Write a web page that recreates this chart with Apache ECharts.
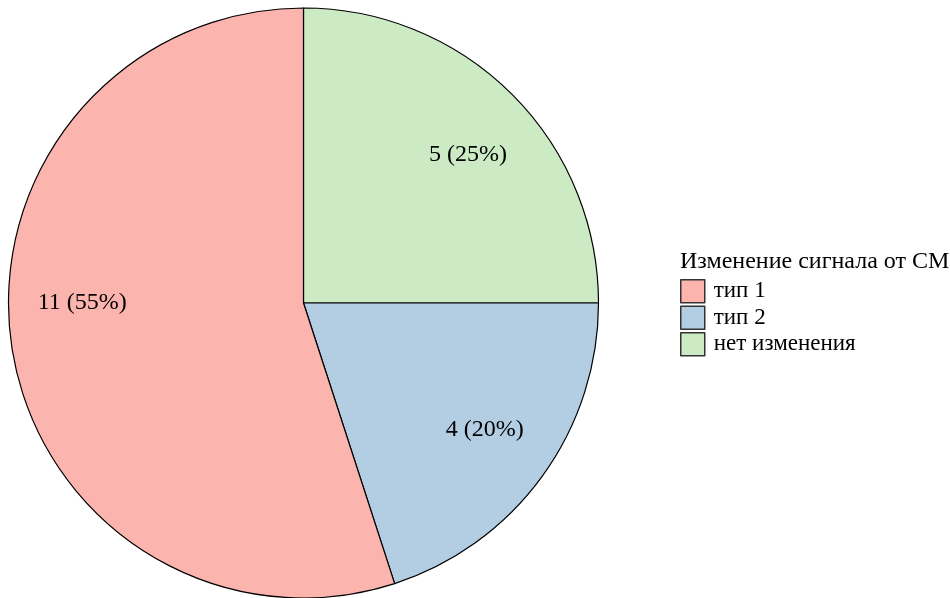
<!DOCTYPE html>
<html><head><meta charset="utf-8">
<script src="https://cdn.jsdelivr.net/npm/echarts@6/dist/echarts.min.js"></script>
<style>html,body{margin:0;padding:0;background:#fff}#c{width:950px;height:598px}</style>
</head><body><div id="c"></div>
<script>
// data (drawing order: clockwise from 12 o'clock)
const categories = ['нет изменения', 'тип 2', 'тип 1'];
const values = [5, 4, 11];
const colors = ['#CCEBC5', '#B3CDE3', '#FBB4AE'];
const legendOrder = ['тип 1', 'тип 2', 'нет изменения'];
const legendTitle = 'Изменение сигнала от СМ';
// label placement (angle from 12 o'clock, clockwise)
const labelAngles = [48, 125, 270];
const labelRadiusFrac = 0.75;

const total = values.reduce((a, b) => a + b, 0);
const cx = 303.5, cy = 303, R = 295;

const chart = echarts.init(document.getElementById('c'), null, {renderer: 'canvas'});
chart.setOption({
  animation: false,
  title: {
    text: legendTitle, left: 680, top: 250, padding: 0,
    textStyle: {fontFamily: 'Liberation Serif', fontSize: 24, fontWeight: 'normal', color: '#000'}
  },
  legend: {
    data: legendOrder, orient: 'vertical', left: 680, top: 279, padding: 0,
    itemWidth: 24, itemHeight: 23, itemGap: 2, icon: 'rect',
    textStyle: {fontFamily: 'Liberation Serif', fontSize: 23, color: '#000', padding: [0, 0, 0, 4]},
    itemStyle: {borderColor: '#333', borderWidth: 1.5}
  },
  series: [{
    type: 'pie',
    center: [cx, cy], radius: [0, R],
    startAngle: 90, clockwise: true,
    data: categories.map((n, i) => ({name: n, value: values[i], itemStyle: {color: colors[i]}})),
    itemStyle: {borderColor: '#000', borderWidth: 1.2},
    emphasis: {disabled: true},
    label: {
      show: true, position: 'inside',
      formatter: p => p.value + ' (' + Math.round(p.value / total * 100) + '%)',
      fontFamily: 'Liberation Serif', fontSize: 24, color: '#000'
    },
    labelLine: {show: false},
    labelLayout: function (p) {
      const a = labelAngles[p.dataIndex] * Math.PI / 180;
      const r = R * labelRadiusFrac;
      return {x: cx + r * Math.sin(a), y: cy - r * Math.cos(a), align: 'center', verticalAlign: 'middle'};
    }
  }]
});
</script></body></html>
